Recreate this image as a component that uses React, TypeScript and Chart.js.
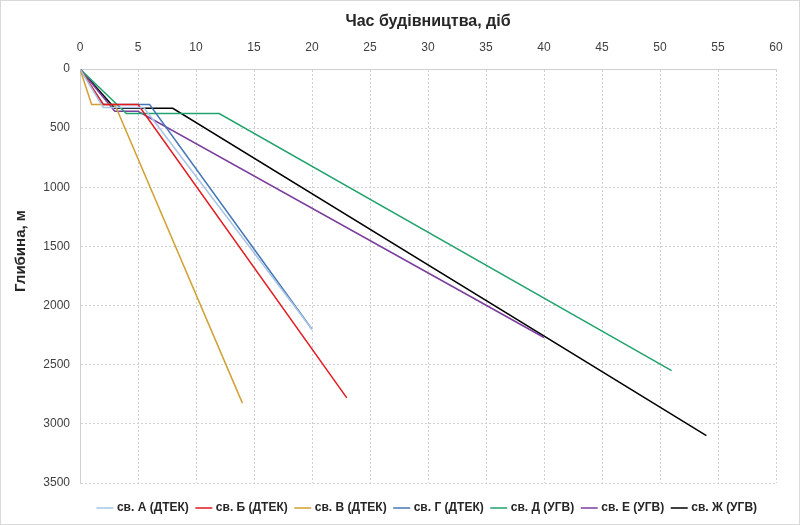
import { useEffect, useRef } from 'react';
import { Chart, registerables } from 'chart.js';

Chart.register(...registerables);

// Час будівництва (діб) та глибина (м) по кожній свердловині
const seriesNames = [
  'св. А (ДТЕК)', 'св. Б (ДТЕК)', 'св. В (ДТЕК)', 'св. Г (ДТЕК)',
  'св. Д (УГВ)', 'св. Е (УГВ)', 'св. Ж (УГВ)',
];
const daysA = [0, 2, 5.5, 20];
const depthA = [0, 325, 325, 2200];
const daysB = [0, 2, 5, 23];
const depthB = [0, 300, 300, 2780];
const daysV = [0, 1, 3, 14];
const depthV = [0, 300, 300, 2825];
const daysG = [0, 2, 6, 20];
const depthG = [0, 300, 300, 2200];
const daysD = [0, 4, 12, 51];
const depthD = [0, 377, 377, 2550];
const daysE = [0, 3, 5, 40];
const depthE = [0, 358, 358, 2270];
const daysZh = [0, 3, 8, 54];
const depthZh = [0, 332, 332, 3100];

const seriesDays = [daysA, daysB, daysV, daysG, daysD, daysE, daysZh];
const seriesDepth = [depthA, depthB, depthV, depthG, depthD, depthE, depthZh];
const colors = ['#a8c4e6', '#e3191f', '#d1a032', '#4677b5', '#22a26c', '#7a3d9e', '#000000'];

const xTicks = [0, 5, 10, 15, 20, 25, 30, 35, 40, 45, 50, 55, 60];

const font = 'Arial, "Liberation Sans"';

export default function App() {
  const canvasRef = useRef<HTMLCanvasElement>(null);
  const chartRef = useRef<Chart | null>(null);

  useEffect(() => {
    document.body.style.margin = '0';
    if (!canvasRef.current) return;
    if (chartRef.current) chartRef.current.destroy();
    const ctx = canvasRef.current.getContext('2d');
    if (!ctx) return;

    const grid = {
      color: '#d0d0d0',
      lineWidth: 1,
      drawTicks: false,
    };

    chartRef.current = new Chart(ctx, {
      type: 'scatter',
      data: {
        datasets: seriesNames.map((name, i) => ({
          label: name,
          data: seriesDays[i].map((d, j) => ({ x: d, y: seriesDepth[i][j] })),
          showLine: true,
          borderColor: colors[i],
          backgroundColor: colors[i],
          borderWidth: 1.5,
          pointRadius: 0,
          pointHoverRadius: 0,
          tension: 0,
        })),
      },
      options: {
        animation: false,
        responsive: false,
        maintainAspectRatio: false,
        layout: { padding: { left: 8, right: 23, top: 8, bottom: 0 } },
        scales: {
          x: {
            type: 'linear',
            position: 'top',
            min: 0,
            max: 60,
            afterBuildTicks: (axis: any) => {
              axis.ticks = xTicks.map((v) => ({ value: v }));
            },
            ticks: {
              color: '#404040',
              font: { family: font, size: 12 },
              padding: 14,
            },
            grid: { ...grid },
            border: { display: true, color: '#d0d0d0', dash: [2, 2] },
            title: {
              display: true,
              text: 'Час будівництва, діб',
              color: '#262626',
              font: { family: font, size: 16, weight: 'bold' },
              padding: { top: 3, bottom: 0 },
            },
            afterFit: (axis: any) => {
              axis.height = 60;
            },
          },
          y: {
            type: 'linear',
            reverse: true,
            min: 0,
            max: 3500,
            ticks: {
              stepSize: 500,
              color: '#404040',
              font: { family: font, size: 12 },
              padding: 10,
              callback: (v: any) => String(v),
            },
            grid: { ...grid },
            border: { display: true, color: '#d0d0d0', dash: [2, 2] },
            title: {
              display: true,
              text: '            Глибина, м',
              color: '#262626',
              font: { family: font, size: 15, weight: 'bold' },
              padding: { top: 3, bottom: 0 },
            },
            afterFit: (axis: any) => {
              axis.width = 71;
            },
          },
        },
        plugins: {
          legend: {
            position: 'bottom',
            fullSize: false,
            title: {
              display: true,
              text: ' ',
              font: { size: 1 },
              padding: { top: 8.8, bottom: 0 },
            },
            labels: {
              usePointStyle: true,
              pointStyle: 'line',
              boxWidth: 12,
              padding: 9,
              color: '#262626',
              font: { family: font, size: 12, weight: 'bold' },
            },
          },
          tooltip: { enabled: false },
        },
      },
    });

    return () => {
      if (chartRef.current) {
        chartRef.current.destroy();
        chartRef.current = null;
      }
    };
  }, []);

  return (
    <div style={{ width: 800, height: 525, background: '#fff', boxSizing: 'border-box', border: '1px solid #d9d9d9' }}>
      <canvas ref={canvasRef} width={798} height={523} />
    </div>
  );
}
